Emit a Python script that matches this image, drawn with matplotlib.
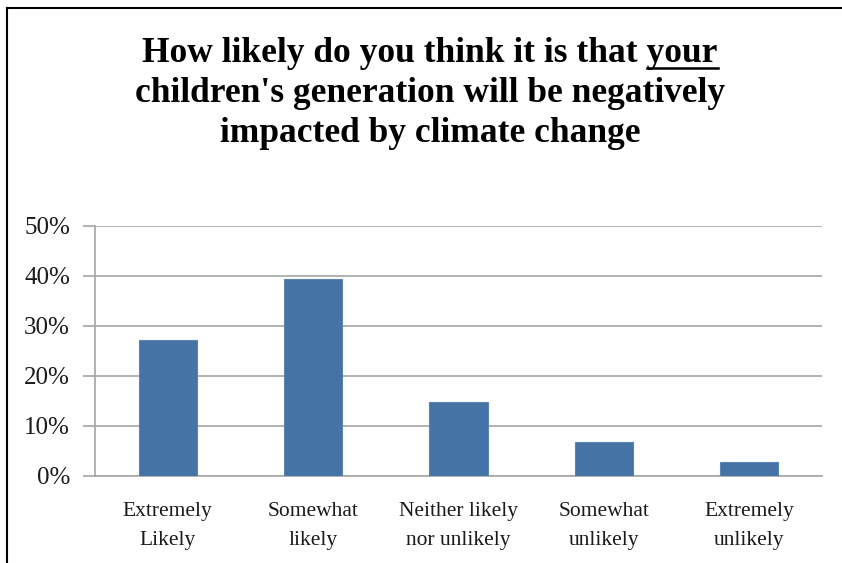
import matplotlib
matplotlib.use("Agg")
import matplotlib.pyplot as plt
from matplotlib.lines import Line2D
from matplotlib.ticker import FuncFormatter, MultipleLocator

categories = ["Extremely\nLikely", "Somewhat\nlikely", "Neither likely\nnor unlikely",
              "Somewhat\nunlikely", "Extremely\nunlikely"]
values = [0.273, 0.394, 0.148, 0.069, 0.029]
title_lines = ["How likely do you think it is that your",
               "children's generation will be negatively",
               "impacted by climate change"]
underlined_word = "your"

serif = ["Liberation Serif", "DejaVu Serif"]

fig = plt.figure(figsize=(8.42, 5.63), dpi=100)
ax = fig.add_axes([95/842, 1-476/563, (822-95)/842, 250/563])

x = list(range(len(categories)))
ax.bar(x, values, width=0.4, color="#4573A5", edgecolor="#5A85B5", linewidth=0.8, zorder=3)

ax.set_xlim(-0.5, len(categories)-0.5)
ax.set_ylim(0, 0.5)
ax.yaxis.set_major_locator(MultipleLocator(0.1))
ax.yaxis.set_major_formatter(FuncFormatter(lambda v, p: f"{round(v*100):d}%"))
ax.grid(axis="y", color="#A6A6A6", linewidth=1.2, zorder=0)
for s in ["top", "right"]:
    ax.spines[s].set_visible(False)
ax.spines["left"].set_color("#A6A6A6")
ax.spines["left"].set_linewidth(1.2)
ax.spines["bottom"].set_color("#A6A6A6")
ax.spines["bottom"].set_linewidth(1.2)
ax.tick_params(axis="y", length=9, width=1.2, color="#A6A6A6", pad=9, labelsize=18)
ax.tick_params(axis="x", length=0, pad=19, labelsize=15.5)
ax.set_xticks(x)
ax.set_xticklabels(categories, linespacing=1.72)
for lab in ax.get_xticklabels() + ax.get_yticklabels():
    lab.set_family(serif)
    lab.set_color("#1a1a1a")

# title, three centred lines
line_y = [54, 94, 134]
cx = 430/842
texts = []
for t, yy in zip(title_lines, line_y):
    texts.append(fig.text(cx, 1-yy/563, t, ha="center", va="center", fontsize=25.5,
                          fontweight="bold", family=serif, color="black"))

fig.canvas.draw()
renderer = fig.canvas.get_renderer()
bb = texts[0].get_window_extent(renderer)
probe = fig.text(0, 0, underlined_word, fontsize=25.5, fontweight="bold", family=serif)
wbb = probe.get_window_extent(renderer)
probe.remove()
W, H = fig.bbox.width, fig.bbox.height
uy = (bb.y0 + 3) / H
fig.add_artist(Line2D([(bb.x1 - wbb.width)/W, bb.x1/W], [uy, uy], transform=fig.transFigure,
                      color="black", linewidth=1.8))

# figure border lines (top and left)
fig.add_artist(Line2D([7/842, 1], [1-8/563, 1-8/563], transform=fig.transFigure, color="black", linewidth=1.5))
fig.add_artist(Line2D([7/842, 7/842], [0, 1-8/563], transform=fig.transFigure, color="black", linewidth=1.5))

fig.savefig("out.png", dpi=100)
